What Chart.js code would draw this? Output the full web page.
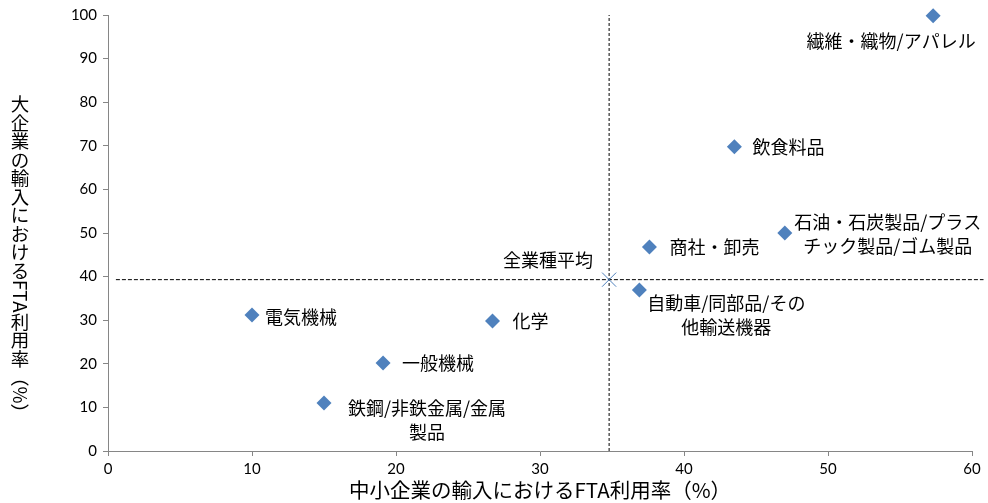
<!DOCTYPE html>
<html>
<head>
<meta charset="utf-8">
<script src="https://cdn.jsdelivr.net/npm/chart.js@4"></script>
<style>
  body { margin: 0; background: #fff; }
  #wrap { width: 988px; height: 503px; }
</style>
</head>
<body>
<div id="wrap"><canvas id="fta"></canvas></div>
<script>
// data
const sectors = ['繊維・織物/アパレル', '飲食料品', '石油・石炭製品/プラス\nチック製品/ゴム製品', '商社・卸売',
    '自動車/同部品/その\n他輸送機器', '電気機械', '化学', '一般機械', '鉄鋼/非鉄金属/金属\n製品'];
const smeRates = [57.3, 43.5, 47.0, 37.6, 36.9, 10.0, 26.7, 19.1, 15.0];
const largeRates = [99.8, 69.8, 50.0, 46.8, 36.9, 31.2, 29.8, 20.2, 11.0];
const avgName = '全業種平均';
const avgSme = 34.8;
const avgLarge = 39.3;
const xTicks = [0, 10, 20, 30, 40, 50, 60];
const yTicks = [0, 10, 20, 30, 40, 50, 60, 70, 80, 90, 100];
const xTitle = '中小企業の輸入におけるFTA利用率（%）';
const yTitle = '大企業の輸入におけるFTA利用率（%）';

// label placement (align, offset from the marker)
const labelPos = [
    ['center', -42, 25], ['left', 18, 0], ['center', 103, -11], ['left', 20, 0],
    ['center', 87, 13], ['left', 13, 2], ['left', 20, 0], ['left', 19, 0], ['center', 103, 5]
];
const avgLabelPos = ['right', -16, -19];

const blue = '#4F81BD';
const axisGrey = '#868686';
const jp = '"Noto Sans CJK JP", sans-serif';

const points = smeRates.map((x, i) => ({ x: x, y: largeRates[i] }));

function drawLabel(ctx, text, px, py, pos) {
    const lines = text.split('\n');
    ctx.textAlign = pos[0];
    lines.forEach((ln, k) => ctx.fillText(ln, px + pos[1], py + pos[2] + k * 24));
}

const labelPlugin = {
    id: 'labels',
    afterDatasetsDraw(chart) {
        const ctx = chart.ctx;
        ctx.save();
        ctx.font = '18px ' + jp;
        ctx.fillStyle = '#000';
        ctx.textBaseline = 'middle';
        chart.getDatasetMeta(0).data.forEach((el, i) => drawLabel(ctx, sectors[i], el.x, el.y, labelPos[i]));
        const a = chart.getDatasetMeta(1).data[0];
        drawLabel(ctx, avgName, a.x, a.y, avgLabelPos);
        ctx.restore();
    }
};

// vertical (tategaki) y title: CJK upright, latin rotated
const yTitlePlugin = {
    id: 'ytitle',
    afterDraw(chart) {
        const ctx = chart.ctx;
        const size = 18.5;
        ctx.save();
        ctx.font = size + 'px ' + jp;
        ctx.fillStyle = '#000';
        ctx.textAlign = 'center';
        ctx.textBaseline = 'middle';
        let y = 95;
        const x = 20;
        for (const ch of yTitle) {
            if (/[A-Za-z0-9%]/.test(ch)) {
                const w = ctx.measureText(ch).width;
                ctx.save();
                ctx.translate(x, y + w / 2);
                ctx.rotate(Math.PI / 2);
                ctx.fillText(ch, 0, 0);
                ctx.restore();
                y += w;
            } else if (ch === '（' || ch === '）') {
                ctx.save();
                ctx.translate(x, y + size / 2);
                ctx.rotate(Math.PI / 2);
                ctx.fillText(ch, 0, 0);
                ctx.restore();
                y += size;
            } else {
                ctx.fillText(ch, x, y + size / 2);
                y += size;
            }
        }
        ctx.restore();
    }
};

const tickFont = { family: 'Lato, "Liberation Sans", sans-serif', size: 15 };

new Chart(document.getElementById('fta'), {
    type: 'scatter',
    data: {
        datasets: [
            {
                data: points,
                pointStyle: 'rectRot',
                pointRadius: 7.5,
                pointHoverRadius: 7.5,
                backgroundColor: blue,
                borderColor: blue,
                borderWidth: 0,
                clip: false
            },
            {
                data: [{ x: avgSme, y: avgLarge }],
                pointStyle: 'crossRot',
                pointRadius: 10,
                borderColor: blue,
                borderWidth: 1,
                clip: false
            },
            {
                data: [{ x: avgSme, y: 0 }, { x: avgSme, y: 100 }],
                showLine: true,
                pointRadius: 0,
                borderColor: '#000',
                borderWidth: 1,
                borderDash: [3, 2]
            },
            {
                data: [{ x: 0.55, y: avgLarge }, { x: 60.8, y: avgLarge }],
                showLine: true,
                pointRadius: 0,
                borderColor: '#000',
                borderWidth: 1,
                borderDash: [4, 2],
                clip: false
            }
        ]
    },
    options: {
        responsive: true,
        maintainAspectRatio: false,
        animation: false,
        events: [],
        layout: { padding: { left: 0, right: 16, top: 15, bottom: 0 } },
        plugins: { legend: { display: false }, tooltip: { enabled: false } },
        scales: {
            x: {
                type: 'linear',
                min: 0,
                max: 60,
                afterBuildTicks: s => { s.ticks = xTicks.map(v => ({ value: v })); },
                afterFit: s => { s.height = 52; },
                ticks: { color: '#000', font: tickFont, padding: 4, maxRotation: 0 },
                grid: { display: true, drawOnChartArea: false, drawTicks: true, tickLength: 5, color: axisGrey },
                border: { color: axisGrey, width: 1 },
                title: {
                    display: true,
                    text: xTitle,
                    color: '#000',
                    font: { family: jp, size: 20.5 },
                    padding: { top: 0, bottom: 0 }
                }
            },
            y: {
                type: 'linear',
                min: 0,
                max: 100,
                afterBuildTicks: s => { s.ticks = yTicks.map(v => ({ value: v })); },
                afterFit: s => { s.width = 108; },
                ticks: { color: '#000', font: tickFont, padding: 6 },
                grid: { display: true, drawOnChartArea: false, drawTicks: true, tickLength: 5, color: axisGrey },
                border: { color: axisGrey, width: 1 }
            }
        }
    },
    plugins: [labelPlugin, yTitlePlugin]
});
</script>
</body>
</html>
